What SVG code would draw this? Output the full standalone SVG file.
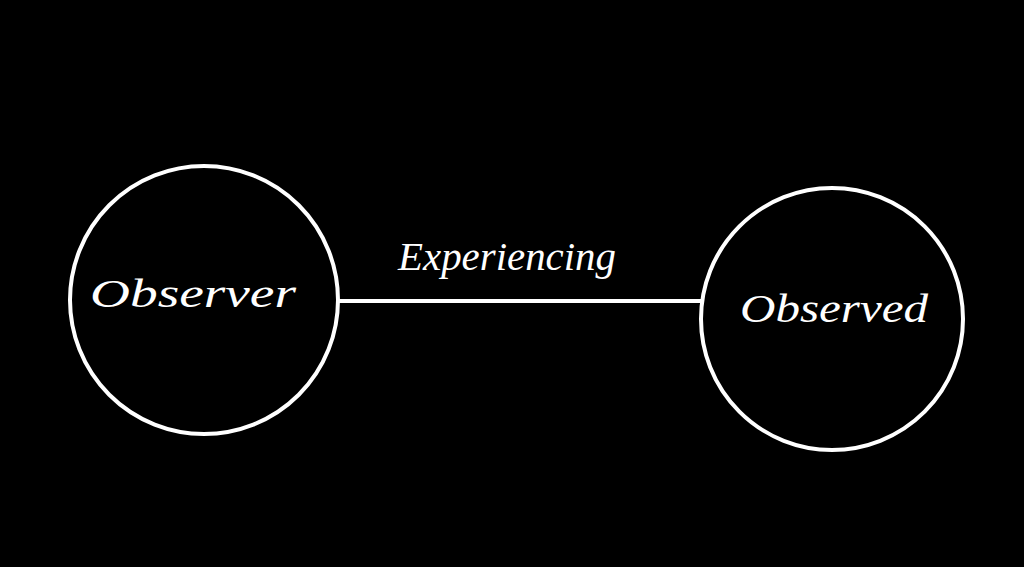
<svg xmlns="http://www.w3.org/2000/svg" width="1024" height="567" viewBox="0 0 1024 567">
<style>
.node{fill:none;stroke:#fff;stroke-width:4}
.conn{stroke:#fff;stroke-width:4;fill:none}
.lbl{fill:#fff;font-family:"Liberation Serif",serif;font-style:italic;font-size:40px}
</style>
<rect width="1024" height="567" fill="#000"/>
<g id="connectors">
<line class="conn" x1="338" y1="301" x2="701" y2="301"/>
<text class="lbl" x="398" y="270" textLength="218" lengthAdjust="spacingAndGlyphs">Experiencing</text>
</g>
<g id="observer">
<circle class="node" cx="204" cy="300" r="134"/>
<text class="lbl" x="90" y="307" textLength="206" lengthAdjust="spacingAndGlyphs">Observer</text>
</g>
<g id="observed">
<circle class="node" cx="832" cy="319" r="131"/>
<text class="lbl" x="740" y="322" textLength="188" lengthAdjust="spacingAndGlyphs">Observed</text>
</g>
</svg>
